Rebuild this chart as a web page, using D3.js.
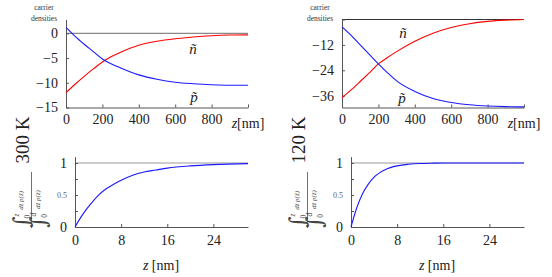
<!DOCTYPE html>
<html>
<head>
<meta charset="utf-8">
<script src="https://cdn.jsdelivr.net/npm/d3@7"></script>
<style>
  body { margin: 0; background: #fff; }
  svg { display: block; }
  .axis path, .axis line { stroke: #555; }
</style>
</head>
<body>
<svg id="chart" width="552" height="277"></svg>
<script>
// top panels: carrier densities vs z [nm]
var zTop = [0, 50, 100, 150, 200, 250, 300, 400, 500, 600, 700, 800, 900, 1000];
var n300 = [-12, -10.3, -8.7, -7.2, -5.8, -4.7, -3.8, -2.4, -1.6, -1.1, -0.75, -0.5, -0.35, -0.3];
var p300 = [1.2, -0.6, -2.2, -3.7, -5.2, -6.2, -7.0, -8.4, -9.3, -9.9, -10.2, -10.4, -10.5, -10.5];
var n120 = [-37, -33.3, -29.3, -25.2, -21, -18, -15.2, -10.3, -6.5, -3.8, -2.0, -0.9, -0.3, 0];
var p120 = [-3.5, -7.5, -12, -16.5, -21, -25.2, -29, -34, -37.3, -39.2, -40.3, -40.9, -41.2, -41.3];

// bottom panels: normalised integral of p
var zBot = [0, 1, 2, 3, 4, 5, 6, 8, 10, 12, 14, 16, 20, 24, 30];
var frac300 = [0, 0.15, 0.28, 0.39, 0.49, 0.57, 0.63, 0.73, 0.81, 0.86, 0.89, 0.92, 0.955, 0.975, 0.99];
var frac120 = [0, 0.3, 0.52, 0.67, 0.78, 0.85, 0.9, 0.955, 0.98, 0.992, 0.997, 1, 1, 1, 1];

var topTicks300 = [0, -5, -10, -15];
var topTicks120 = [0, -12, -24, -36];
var botXTicks = [0, 8, 16, 24];
var botYTicks = [0, 0.25, 0.5, 0.75, 1];
var temps = ["300 K", "120 K"];

var FONT = "'Liberation Serif'";
var svg = d3.select("#chart");
var minus = function(v) { return String(v).replace("-", "\u2212"); };

function styleAxis(a) {
    a.attr("font-family", null).attr("font-size", null);
    a.selectAll("text").attr("fill", "#222").style("font-size", "14px");
}

function topPanel(ox, nVals, pVals, yDom, yTicks, nLab, pLab, zeroColor) {
    var g = svg.append("g").attr("transform", "translate(" + ox + ",0)");
    var x = d3.scaleLinear().domain([0, 1000]).range([66, 248]);
    var y = d3.scaleLinear().domain(yDom).range([107.5, 19.5]);

    // zero line
    g.append("line")
        .attr("x1", x(0)).attr("x2", x(1000))
        .attr("y1", y(0)).attr("y2", y(0))
        .attr("stroke", zeroColor).attr("stroke-width", 1.2);

    g.append("g").attr("class", "axis")
        .attr("transform", "translate(0," + y.range()[0] + ")")
        .call(d3.axisBottom(x).tickValues([0, 200, 400, 600, 800, 1000])
              .tickSizeInner(-3).tickSizeOuter(0).tickPadding(7)
              .tickFormat(function(d) { return d == 1000 ? "" : d; }))
        .call(styleAxis);

    g.append("g").attr("class", "axis")
        .attr("transform", "translate(" + x(0) + ",0)")
        .call(d3.axisLeft(y).tickValues(yTicks)
              .tickSizeInner(-3).tickSizeOuter(0).tickPadding(8)
              .tickFormat(function(d) { return (ox > 0 && d == 0) ? "" : minus(d); }))
        .call(styleAxis);

    var line = d3.line().curve(d3.curveMonotoneX)
        .x(function(d, i) { return x(zTop[i]); })
        .y(function(d) { return y(d); });

    g.append("path").datum(nVals).attr("d", line)
        .attr("fill", "none").attr("stroke", "#ff0000").attr("stroke-width", 1.1);
    g.append("path").datum(pVals).attr("d", line)
        .attr("fill", "none").attr("stroke", "#1a1aff").attr("stroke-width", 1.1);

    // axis label at end of x-axis
    var zl = g.append("text").attr("x", x(1000)).attr("y", 128)
        .attr("text-anchor", "middle").style("font-size", "14px").attr("fill", "#222");
    zl.append("tspan").style("font-style", "italic").text("z");
    zl.append("tspan").text("[nm]");

    // carrier densities label
    g.append("text").attr("x", 44).attr("y", 10).attr("text-anchor", "middle")
        .style("font-size", "7.5px").attr("fill", "#333").text("carrier");
    g.append("text").attr("x", 44).attr("y", 21).attr("text-anchor", "middle")
        .style("font-size", "7.5px").attr("fill", "#333").text("densities");

    g.append("text").attr("x", nLab[0]).attr("y", nLab[1])
        .attr("text-anchor", "middle").style("font-size", "15px").style("font-style", "italic")
        .attr("fill", "#222").text("\u00f1");
    g.append("text").attr("x", pLab[0]).attr("y", pLab[1])
        .attr("text-anchor", "middle").style("font-size", "15px").style("font-style", "italic")
        .attr("fill", "#222").text("p\u0303");
}

function botPanel(ox, vals, temp) {
    var g = svg.append("g").attr("transform", "translate(" + ox + ",0)");
    var x = d3.scaleLinear().domain([0, 30]).range([75, 248]);
    var y = d3.scaleLinear().domain([0, 1.1]).range([227, 156.6]);

    g.append("line")
        .attr("x1", x(0)).attr("x2", x(30))
        .attr("y1", y(1)).attr("y2", y(1))
        .attr("stroke", "#999").attr("stroke-width", 1.2);

    g.append("g").attr("class", "axis")
        .attr("transform", "translate(0," + y(0) + ")")
        .call(d3.axisBottom(x).tickValues(botXTicks)
              .tickSizeInner(-3).tickSizeOuter(0).tickPadding(8))
        .call(styleAxis);

    var ya = g.append("g").attr("class", "axis")
        .attr("transform", "translate(" + x(0) + ",0)")
        .call(d3.axisLeft(y).tickValues(botYTicks)
              .tickSizeInner(-3).tickSizeOuter(0).tickPadding(8)
              .tickFormat(function(d) { return (d == 0 || d == 1) ? d : (d == 0.5 ? "0.5" : ""); }))
        .call(styleAxis);
    ya.selectAll("text").filter(function(d) { return d == 0.5; })
        .style("font-size", "8px").attr("fill", "#666");

    var line = d3.line().curve(d3.curveMonotoneX)
        .x(function(d, i) { return x(zBot[i]); })
        .y(function(d) { return y(d); });
    g.append("path").datum(vals).attr("d", line)
        .attr("fill", "none").attr("stroke", "#1a1aff").attr("stroke-width", 1.1);

    var xl = g.append("text").attr("x", 161).attr("y", 270)
        .attr("text-anchor", "middle").style("font-size", "14px").attr("fill", "#222");
    xl.append("tspan").style("font-style", "italic").text("z");
    xl.append("tspan").text(" [nm]");

    // temperature label
    g.append("text").attr("transform", "translate(29,140) rotate(-90)")
        .attr("text-anchor", "middle").style("font-size", "19px").attr("fill", "#222").text(temp);

    // y label fraction
    var f = g.append("g").attr("transform", "translate(31.5,200) rotate(-90)");
    f.append("line").attr("x1", -28).attr("x2", 28).attr("y1", 0).attr("y2", 0)
        .attr("stroke", "#333").attr("stroke-width", 0.7);
    [["z", -3], ["d", 14]].forEach(function(part) {
        var t = f.append("text").attr("x", -28).attr("y", part[1]).attr("fill", "#444");
        t.append("tspan").attr("class", "intg").style("font-size", "22px").text("\u222b");
        t.append("tspan").style("font-size", "7.5px").attr("dx", 0).attr("dy", -10).style("font-style", "italic").text(part[0]);
        t.append("tspan").style("font-size", "7.5px").attr("dx", -5).attr("dy", 11).text("0");
        t.append("tspan").style("font-size", "7px").attr("dx", 5).attr("dy", -7).style("font-style", "italic")
            .text("dz\u0303  p(z\u0303)");
    });
}

topPanel(0, n300, p300, [-15, 2.8], topTicks300, [193, 54], [194, 102], "#888");
topPanel(276, n120, p120, [-41.6, 0], topTicks120, [127, 38], [126, 103], "#333");
botPanel(0, frac300, temps[0]);
botPanel(276, frac120, temps[1]);

// serif face on every text (set per element)
svg.selectAll("text").style("font-family", FONT);
svg.selectAll(".intg").style("font-family", "'DejaVu Serif'");
</script>
</body>
</html>
